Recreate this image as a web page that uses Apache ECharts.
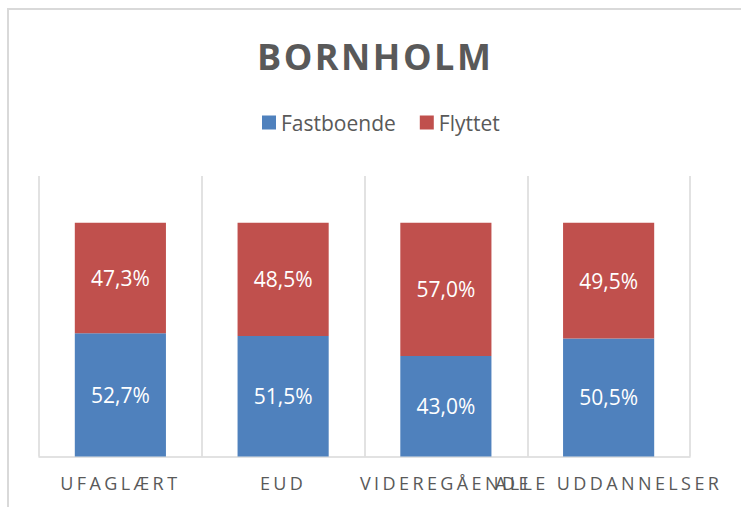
<!DOCTYPE html>
<html>
<head>
<meta charset="utf-8">
<title>Bornholm</title>
<script src="https://cdn.jsdelivr.net/npm/echarts@6/dist/echarts.min.js"></script>
<style>
  html, body { margin: 0; padding: 0; background: #fff; }
  #chart { width: 741px; height: 507px; }
  /* spaced capitals for the title and the category labels */
  #chart svg text[style*="36px"] { letter-spacing: 2.5px; }
  #chart svg text[style*="18px"] { letter-spacing: 3.4px; }
</style>
</head>
<body>
<div id="chart"></div>
<script>
// Share of graduates by education level, Bornholm (percent)
const categories = ['UFAGLÆRT', 'EUD', 'VIDEREGÅENDE', 'ALLE UDDANNELSER'];
const fastboende = [52.7, 51.5, 43.0, 50.5];
const flyttet = [47.3, 48.5, 57.0, 49.5];
const seriesNames = ['Fastboende', 'Flyttet'];

const textColor = '#595959';
const lineColor = '#d9d9d9';
const fontFamily = '"Open Sans", "DejaVu Sans", sans-serif';

const fmt = v => v.toFixed(1).replace('.', ',') + '%';

const chart = echarts.init(document.getElementById('chart'), null, { renderer: 'svg' });

const barLabel = {
  show: true,
  position: 'inside',
  color: '#ffffff',
  fontFamily: fontFamily,
  fontSize: 21,
  formatter: p => fmt(p.value)
};

chart.setOption({
  animation: false,
  backgroundColor: '#ffffff',
  graphic: [{
    type: 'rect',
    silent: true,
    shape: { x: 8, y: 9, width: 800, height: 600 },
    style: { fill: 'none', stroke: lineColor, lineWidth: 2 }
  }],
  title: {
    text: 'BORNHOLM',
    left: 252,
    top: 33,
    textStyle: {
      color: textColor,
      fontFamily: fontFamily,
      fontWeight: 'bold',
      fontSize: 36
    }
  },
  legend: {
    data: seriesNames,
    left: 257,
    top: 107,
    itemWidth: 14,
    itemHeight: 14,
    itemGap: 24,
    icon: 'rect',
    textStyle: {
      color: textColor,
      fontFamily: fontFamily,
      fontSize: 21
    }
  },
  grid: {
    left: 39,
    right: 51,
    top: 176,
    bottom: 50.5,
    containLabel: false
  },
  xAxis: {
    type: 'category',
    data: categories,
    axisLine: { show: true, lineStyle: { color: lineColor, width: 1.5 } },
    axisTick: { show: false },
    splitLine: { show: true, lineStyle: { color: lineColor, width: 1.5 } },
    axisLabel: {
      interval: 0,
      margin: 17,
      color: textColor,
      fontFamily: fontFamily,
      fontSize: 18
    }
  },
  yAxis: {
    type: 'value',
    min: 0,
    max: 120,
    show: false,
    splitLine: { show: false }
  },
  series: [
    {
      name: seriesNames[0],
      type: 'bar',
      stack: 'total',
      data: fastboende,
      barCategoryGap: '44%',
      itemStyle: { color: '#4f81bd' },
      label: barLabel
    },
    {
      name: seriesNames[1],
      type: 'bar',
      stack: 'total',
      data: flyttet,
      barCategoryGap: '44%',
      itemStyle: { color: '#c0504d' },
      label: barLabel
    }
  ]
});
</script>
</body>
</html>
